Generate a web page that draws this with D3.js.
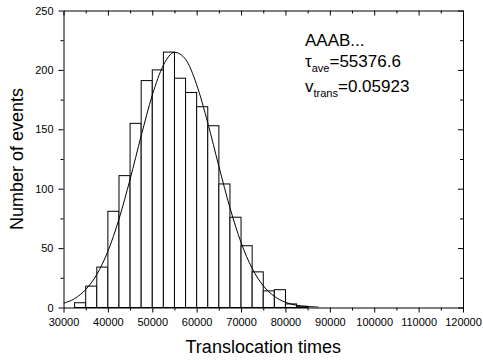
<!DOCTYPE html>
<html><head><meta charset="utf-8">
<script src="https://cdn.jsdelivr.net/npm/d3@7"></script>
<style>body{margin:0;background:#fff}svg{display:block}</style>
</head><body><svg id="c" width="483" height="362"></svg>
<script>
// Histogram bins (start of each 2500-wide bin) and counts
const binStarts = [32500,35000,37500,40000,42500,45000,47500,50000,52500,55000,57500,60000,62500,65000,67500,70000,72500,75000,77500,80000,82500];
const binCounts = [4,18,34,81,111,155,191,200,215,193,181,169,153,104,76,52,30,14,15,3,1];
const binWidth = 2500;
// Fitted curve points
const fitX = [30000,32500,35000,37500,40000,42500,45000,47500,50000,52500,55000,57500,60000,62500,65000,67500,70000,72500,75000,77500,80000,82500,85000,87500];
const fitY = [3.5,7.5,15.1,27.8,47.3,74.4,107.9,144.5,178.7,203.9,214.8,208.9,187.5,155.4,118.9,84.0,54.7,32.9,18.3,9.4,4.4,1.9,0.8,0.3];
// Axis ticks
const xMajorTicks = [30000,40000,50000,60000,70000,80000,90000,100000,110000,120000];
const xMinorTicks = [35000,45000,55000,65000,75000,85000,95000,105000,115000];
const yMajorTicks = [0,50,100,150,200,250];
const yMinorTicks = [25,75,125,175,225];
const xTitle = "Translocation times";
const yTitle = "Number of events";

const W = 483, H = 362;
const L = 63.5, R = 463, T = 10.5, B = 307.5;
const font = "Arial, 'Liberation Sans', sans-serif";
const svg = d3.select("#c");
const x = d3.scaleLinear().domain([30000,120000]).range([L,R]);
const y = d3.scaleLinear().domain([0,250]).range([B,T]);

// clip
svg.append("defs").append("clipPath").attr("id","clip")
  .append("rect").attr("x",L).attr("y",T).attr("width",R-L).attr("height",B-T);

// bars
svg.append("g").selectAll("rect").data(binStarts).join("rect")
  .attr("x",(d)=>x(d))
  .attr("width",(d)=>x(d+binWidth)-x(d))
  .attr("y",(d,i)=>y(binCounts[i]))
  .attr("height",(d,i)=>y(0)-y(binCounts[i]))
  .attr("fill","#fff").attr("stroke","#000").attr("stroke-width",1);

// fit curve
const line = d3.line().x((d,i)=>x(fitX[i])).y((d)=>y(d)).curve(d3.curveMonotoneX);
svg.append("path").attr("clip-path","url(#clip)").datum(fitY).attr("d",line)
  .attr("fill","none").attr("stroke","#000").attr("stroke-width",1);

function styleAxis(g){
  g.attr("font-family",font).attr("font-size",11);
  g.selectAll("path").attr("stroke","#000");
  g.selectAll("line").attr("stroke","#000");
  g.selectAll("text").attr("fill","#000");
}
// bottom
svg.append("g").attr("transform",`translate(0,${B})`)
  .call(d3.axisBottom(x).tickValues(xMajorTicks).tickSizeInner(5).tickSizeOuter(0).tickPadding(6).tickFormat(d3.format("d")))
  .call(styleAxis);
svg.append("g").attr("transform",`translate(0,${B})`)
  .call(d3.axisBottom(x).tickValues(xMinorTicks).tickSizeInner(3).tickSizeOuter(0).tickFormat(""))
  .call(styleAxis).call(g=>g.select("path").remove());
// top
svg.append("g").attr("transform",`translate(0,${T})`)
  .call(d3.axisTop(x).tickValues(xMajorTicks).tickSizeInner(-5).tickSizeOuter(0).tickFormat(""))
  .call(styleAxis);
svg.append("g").attr("transform",`translate(0,${T})`)
  .call(d3.axisTop(x).tickValues(xMinorTicks).tickSizeInner(-3).tickSizeOuter(0).tickFormat(""))
  .call(styleAxis).call(g=>g.select("path").remove());
// left
svg.append("g").attr("transform",`translate(${L},0)`)
  .call(d3.axisLeft(y).tickValues(yMajorTicks).tickSizeInner(5).tickSizeOuter(0).tickPadding(5))
  .call(styleAxis);
svg.append("g").attr("transform",`translate(${L},0)`)
  .call(d3.axisLeft(y).tickValues(yMinorTicks).tickSizeInner(3).tickSizeOuter(0).tickFormat(""))
  .call(styleAxis).call(g=>g.select("path").remove());
// right
svg.append("g").attr("transform",`translate(${R},0)`)
  .call(d3.axisRight(y).tickValues(yMajorTicks).tickSizeInner(-5).tickSizeOuter(0).tickFormat(""))
  .call(styleAxis);
svg.append("g").attr("transform",`translate(${R},0)`)
  .call(d3.axisRight(y).tickValues(yMinorTicks).tickSizeInner(-3).tickSizeOuter(0).tickFormat(""))
  .call(styleAxis).call(g=>g.select("path").remove());

// titles
svg.append("text").attr("x",(L+R)/2).attr("y",353).attr("text-anchor","middle")
  .attr("font-family",font).attr("font-size",18).text(xTitle);
svg.append("text").attr("transform",`translate(23,${(T+B)/2}) rotate(-90)`).attr("text-anchor","middle")
  .attr("font-family",font).attr("font-size",18).text(yTitle);

// annotation
const ann = svg.append("g").attr("font-family",font).attr("font-size",17).attr("fill","#000");
ann.append("text").attr("x",305).attr("y",46).text("AAAB...");
const t2 = ann.append("text").attr("x",305).attr("y",67);
t2.append("tspan").text("τ");
t2.append("tspan").attr("font-size",11).attr("dy",5).text("ave");
t2.append("tspan").attr("dy",-5).text("=55376.6");
const t3 = ann.append("text").attr("x",305).attr("y",92);
t3.append("tspan").text("v");
t3.append("tspan").attr("font-size",11).attr("dy",5).text("trans");
t3.append("tspan").attr("dy",-5).text("=0.05923");
</script></body></html>
